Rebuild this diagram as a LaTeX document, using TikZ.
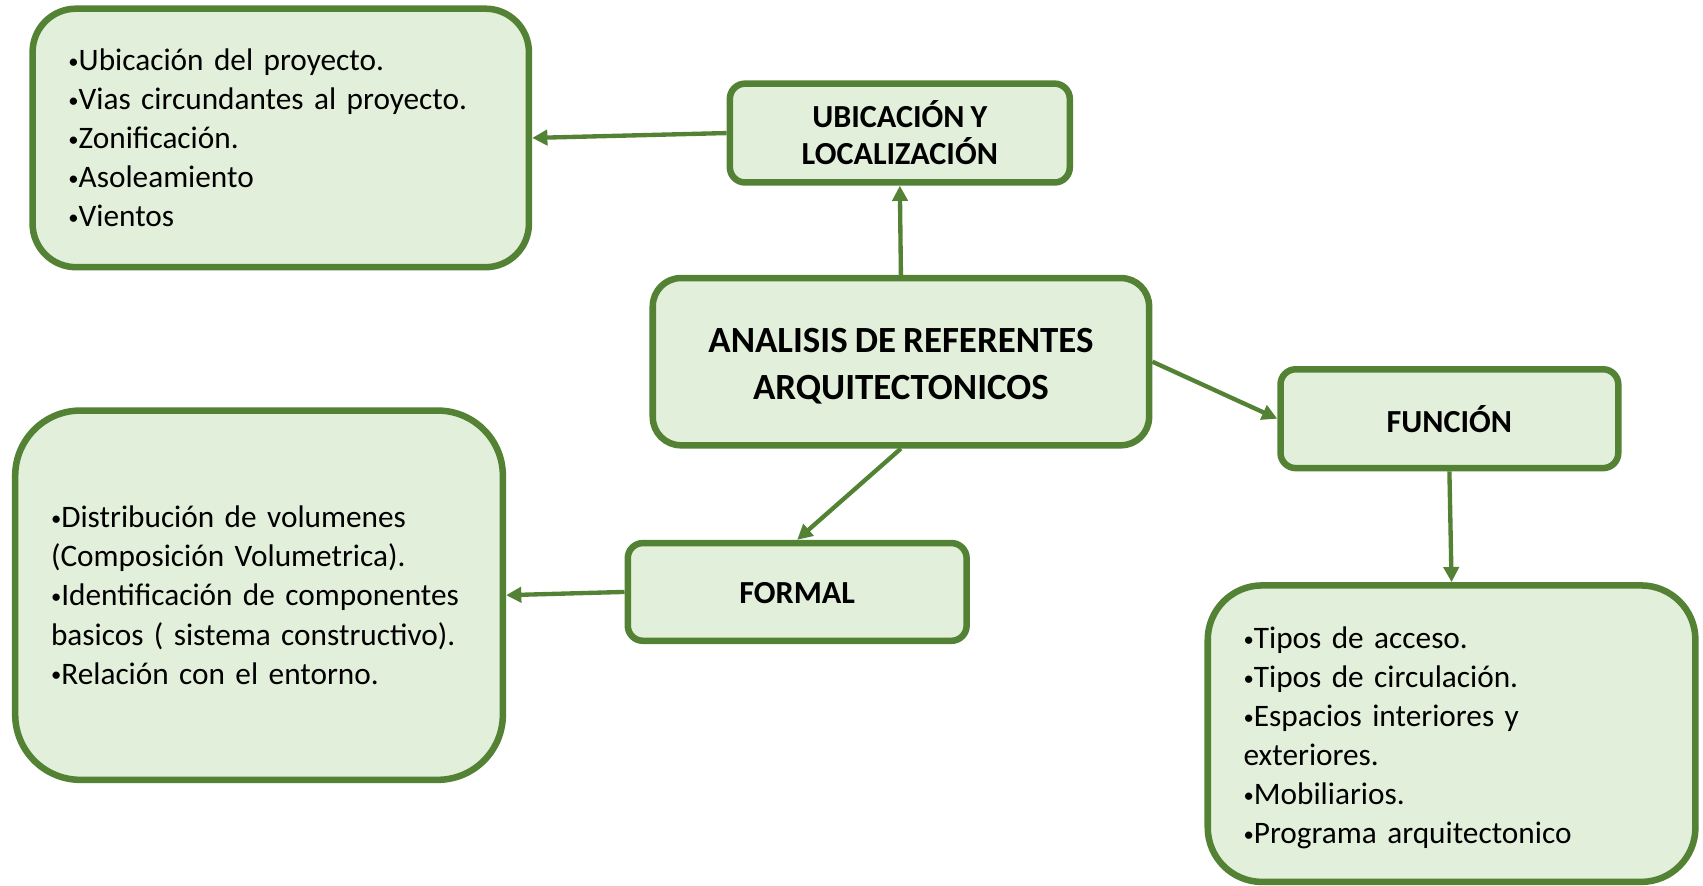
\documentclass[tikz,border=0pt]{standalone}
\usepackage{fontspec}
\setmainfont{Carlito}[WordSpace=0.85]
\usetikzlibrary{arrows.meta}
\definecolor{gborder}{HTML}{548235}
\definecolor{gfill}{HTML}{E2EFDA}
\newcommand\bul{\raisebox{1.1pt}{\fontsize{9.5}{9.5}\selectfont•}}
\begin{document}
\begin{tikzpicture}[x=0.5pt,y=-0.5pt,
  box/.style={draw=gborder, fill=gfill, line width=3pt, inner sep=0pt},
  listbox/.style={box, align=left, inner xsep=16.5pt, font=\fontsize{14.4}{18}\selectfont},
  headbox/.style={box, align=center, font=\bfseries\fontsize{14.8}{17}\selectfont},
  conn/.style={draw=gborder, line width=2pt, -{Triangle[length=7pt,width=7pt]}}]
\useasboundingbox (0,0) rectangle (1568,815);

\node[listbox, rounded corners=20pt, text width=195.5pt, minimum height=119pt] (loc) at (258.5,127)
  {\bul Ubicación del proyecto.\\\bul Vias circundantes al proyecto.\\\bul Zonificación.\\\bul Asoleamiento\\\bul Vientos};

\node[headbox, rounded corners=7pt, minimum width=156.5pt, minimum height=45.5pt] (ubic) at (828.5,122.5)
  {UBICACIÓN Y\\LOCALIZACIÓN};

\node[box, align=center, font=\bfseries\fontsize{17}{21.5}\selectfont, rounded corners=13pt,
  minimum width=228.5pt, minimum height=77pt] (main) at (829.5,333)
  {\rule{0pt}{15.5pt}ANALISIS DE REFERENTES\\ARQUITECTONICOS};

\node[headbox, rounded corners=7pt, minimum width=155.5pt, minimum height=45.5pt] (func) at (1334.5,385.5)
  {FUNCIÓN};

\node[headbox, rounded corners=7pt, minimum width=156pt, minimum height=45pt] (formal) at (734,545)
  {\rule{0pt}{11pt}FORMAL};

\node[listbox, rounded corners=30pt, text width=191.5pt, minimum height=170pt] (formlist) at (238.5,548)
  {\bul Distribución de volumenes\\(Composición Volumetrica).\\\bul Identificación de componentes\\basicos ( sistema constructivo).\\\bul Relación con el entorno.};

\node[listbox, rounded corners=25pt, text width=191.5pt, minimum height=136.5pt] (funclist) at (1336.5,675.5)
  {\rule{0pt}{14pt}\bul Tipos de acceso.\\\bul Tipos de circulación.\\\bul Espacios interiores y\\exteriores.\\\bul Mobiliarios.\\\bul Programa arquitectonico};

\draw[conn] (ubic.west) -- (loc.east);
\draw[conn] (main.north) -- (ubic.south);
\draw[conn] (main.east) -- (func.west);
\draw[conn] (func.south) -- (funclist.north);
\draw[conn] (main.south) -- (formal.north);
\draw[conn] (formal.west) -- (formlist.east);
\end{tikzpicture}
\end{document}
